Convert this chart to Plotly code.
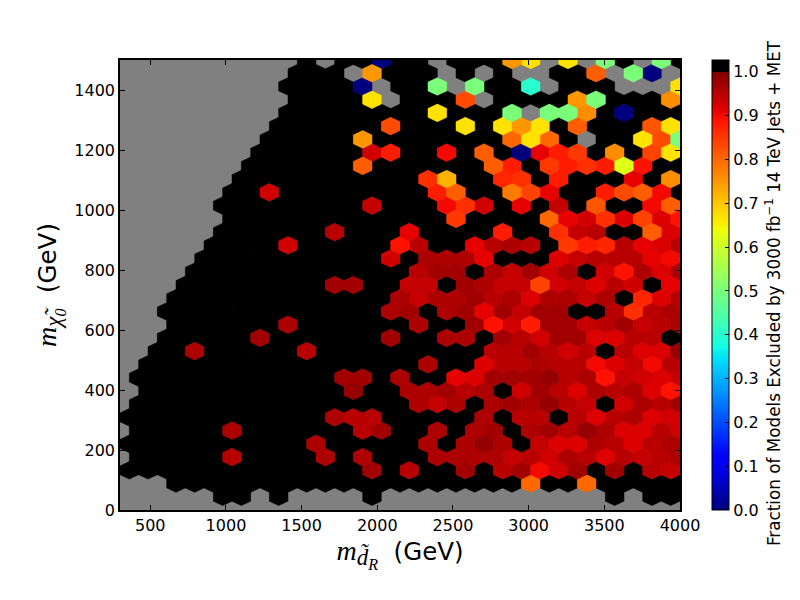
import numpy as np
import plotly.graph_objects as go

N = None   # empty bin, background shows through
B = 1.01   # black bins, everything excluded

# hexbin rows from the bottom, odd rows sit half a bin to the right
row_01 = [N]*5 + [B, B, N, B] + [N]*4 + [B] + [N]*12 + [B, N, B, B]
row_02 = [N]*3 + [B]*19 + [.8, B, B, .8] + [B]*5
row_03 = [B]*13 + [.97, B, .95, B, B, .97, B, .95, .97, .9, .93, .97, B, .97, B, .95, .94]
row_04 = [N] + [B]*5 + [.95] + [B]*4 + [.96, B, .96, B, B, B, .96, .96, .96, .96, .94, .95, .93, .96, .95, .92, .95, .94, .95, .96]
row_05 = [B]*10 + [.96] + [B]*5 + [.96, B, .96, .98, .96, B, .94, .92, .92, .96, .95, .92, .95, .96]
row_06 = [N] + [B]*5 + [.96] + [B]*6 + [.95, .97, B, B, .96, B, .96, .97, B, .96, .97, .95, .98, .96, .92, .92, .95, .93]
row_07 = [B]*11 + [.96, .95, .95] + [B]*5 + [.96, B, .95, .95, B, .95, .92, .95, .96, .92, .93]
row_08 = [N] + [B]*15 + [.96, .94, .96, B, .96, .97, .96, .98, .95, .94, B, .93, .96, .95, .97]
row_09 = [N] + [B]*11 + [.98, B, B, .96, .96, .97, .95, .96, B, .93, .97, .95, .92, .96, .95, .96, .92, .89]
row_10 = [N] + [B]*11 + [.97, .97, B, .96, B, B, .91, .92, .97, .97, .97, .98, .95, .96, .89, .94, .93, .92, .94]
row_11 = [N] + [B]*15 + [.96, B, B, .92, .95, .95, .96, .95, .95, .9, .92, .94, .9, .95]
row_12 = [N]*2 + [B, B, .96] + [B]*5 + [.95] + [B]*9 + [.95, .95, .97, .95, .93, .95, B, .95, .92, .92, .98]
row_13 = [N]*2 + [B]*5 + [.97] + [B]*6 + [.97, B, B, .96, .96, B, .97, .95, .93, .97, .97, .92, .92, .95, .95, B]
row_14 = [N]*3 + [B]*6 + [.96] + [B]*6 + [.96, B, B, .97, .89, .93, .88, .97, .97, .94, .95, .97, .94, .95, .96]
row_15 = [N]*2 + [B]*12 + [.96, .97, B, .96, .97, .91, .97, .94, .97, .97, B, B, .95, .86, .95, .96]
row_16 = [N]*3 + [B]*12 + [.96, .94, .96, .96, .97, .95, .96, .92, .96, .96, .94, .96, B, .87, .92, .95]
row_17 = [N]*3 + [B]*8 + [.97, .97, B, B, .94, .94, B, .97, .96, .94, .94, .84, .93, .94, .92, .95, .93, B, .91]
row_18 = [N]*4 + [B]*12 + [.95, .97, .97, B, .96, .94, .97, .93, .96, B, .93, .89, .96, .92, .96]
row_19 = [N]*4 + [B]*10 + [.93, B, .96, .96, .96, .91, B, B, B, .92, .94, .95, .95, .95, .91, .9]
row_20 = [N]*5 + [B]*4 + [.93] + [B]*5 + [.89, .95, B, B, .91, .95, .96, .95, B, .85, .88, .87, .95, .91, .92, .95]
row_21 = [N]*5 + [B]*6 + [.95, B, B, B, .91] + [B]*4 + [.88, B, B, .86, .94, .95, B, B, .81, .92]
row_22 = [N]*6 + [B]*12 + [.85] + [B]*4 + [.8, .91, .93, .86, .92, .84, .92, .89]
row_23 = [N]*5 + [B]*8 + [.94, B, B, B, .9, .86, .93, B, .91, B, .94, B, .82, B, B, .9, .81]
row_24 = [N]*6 + [B, B, .93] + [B]*8 + [.88, .81, B, B, .78, .84, .91, B, B, .88, .83, .81, .9, B]
row_25 = [N]*6 + [B]*10 + [.86, .72, B, B, .87, .86, B, .88, B, B, B, .91, B, .76]
row_26 = [N]*7 + [B]*6 + [.81] + [B]*6 + [.81, .88, B, .85, .88, .86, .88, .62, .89, B, B]
row_27 = [N]*7 + [B]*6 + [.93, .88, B, B, .9, B, .81, B, 0.0, .91, .88, .85, B, .76, B, .84, .67]
row_28 = [N]*8 + [B]*5 + [.75] + [B]*7 + [.8, .67, .8, B, N, B, B, .67, .83, .5]
row_29 = [N]*8 + [B]*6 + [.83, B, B, B, .67, B, .67, .75, .67, B, .81, B, B, B, .82, .67]
row_30 = [N]*9 + [B]*8 + [.67, B, B, B, .5, N, .5, .5, .76, B, 0.0, B, B, B]
row_31 = [N]*9 + [B]*4 + [.67, N, B, B, B, .83, N, B, B, B, B, .75, .5, B, B, B, .76]
row_32 = [N]*9 + [B]*4 + [0.0, N, B, B, .5, N, .5, B, B, .4, N, B, B, B, N, N, N, .67]
row_33 = [N]*9 + [B, B, B, N, .75, B, B, B, N, B, N, B, N, N, B, B, .81, N, .5, 0.0, N]
row_34 = [N]*10 + [B, N, B, B, 0.0, B, B, N, B, B, B, .75, .67, N, .67, N, .5, B, N, .5, B]
rows = [row_01, row_02, row_03, row_04, row_05, row_06, row_07, row_08, row_09, row_10, row_11,
        row_12, row_13, row_14, row_15, row_16, row_17, row_18, row_19, row_20, row_21, row_22,
        row_23, row_24, row_25, row_26, row_27, row_28, row_29, row_30, row_31, row_32, row_33, row_34]

x_ticks = [500, 1000, 1500, 2000, 2500, 3000, 3500, 4000]
y_ticks = [0, 200, 400, 600, 800, 1000, 1200, 1400]
cbar_ticks = [0.0, 0.1, 0.2, 0.3, 0.4, 0.5, 0.6, 0.7, 0.8, 0.9, 1.0]

xmin, xmax, ymin, ymax = 300, 4000, 0, 1500
sx = (xmax - xmin) / 30
sy = (ymax - ymin) / 17
vmax = 1.027


def jet(v):
    # black above 1.0, same as the colorbar
    if v >= 1:
        return "rgb(0,0,0)"
    r = np.interp(v, [0, .35, .66, .89, 1], [0, 0, 1, 1, .5])
    g = np.interp(v, [0, .125, .375, .64, .91, 1], [0, 0, 1, 1, 0, 0])
    b = np.interp(v, [0, .11, .34, .65, 1], [.5, 1, 1, 0, 0])
    return "rgb(%d,%d,%d)" % (r * 255, g * 255, b * 255)


stops = [0, .11, .125, .34, .35, .375, .64, .65, .66, .89, .91, .9999]
scale = [[p / vmax, jet(p)] for p in stops] + [[1 / vmax, "rgb(0,0,0)"], [1, "rgb(0,0,0)"]]

# one polygon per bin, grouped by value so each value is one filled trace
hex_dx = np.array([.5, .5, 0, -.5, -.5, 0, .5]) * sx
hex_dy = np.array([-.5, .5, 1, .5, -.5, -1, -.5]) * sy / 3
groups = {}
xs, ys, vals = [], [], []
for k, row in enumerate(rows, start=1):
    for i, v in enumerate(row):
        if v is None:
            continue
        cx = xmin + i * sx + (sx / 2 if k % 2 else 0)
        cy = ymin + k * sy / 2
        gx, gy = groups.setdefault(v, ([], []))
        gx.extend(list(cx + hex_dx) + [None])
        gy.extend(list(cy + hex_dy) + [None])
        xs.append(cx)
        ys.append(cy)
        vals.append(v)

fig = go.Figure()
for v, (gx, gy) in groups.items():
    c = jet(v)
    fig.add_trace(go.Scatter(x=gx, y=gy, mode="lines", fill="toself", fillcolor=c,
                             line=dict(color=c, width=0.5), hoverinfo="skip", showlegend=False))

# invisible points carry the colorbar
fig.add_trace(go.Scatter(x=xs, y=ys, mode="markers", showlegend=False,
                         marker=dict(size=1, opacity=0, color=vals, cmin=0, cmax=vmax, colorscale=scale,
                                     colorbar=dict(x=1.0571, xanchor="left", xpad=0, y=0.5, yanchor="middle",
                                                   ypad=0, len=1, thickness=17, tickvals=cbar_ticks,
                                                   tickformat=".1f", ticks="inside", ticklen=4, tickcolor="black",
                                                   outlinecolor="black", outlinewidth=1,
                                                   tickfont=dict(size=16, color="black")))))

axis = dict(showgrid=False, zeroline=False, showline=True, linecolor="black", linewidth=1.5,
            mirror="ticks", ticks="inside", ticklen=5, tickcolor="black", tickfont=dict(size=16, color="black"))
serif = "<span style='font-family:Liberation Serif;font-size:%dpx'><i>%s</i></span>"
fig.update_xaxes(axis, range=[xmin, xmax], tickvals=x_ticks, title=dict(
    text=serif % (28, "m") + "<sub>" + serif % (23, "d\u0303<sub>R</sub>") + "</sub>  (GeV)",
    font=dict(size=24.5, color="black"), standoff=4))
fig.update_yaxes(axis, range=[ymin, ymax], tickvals=y_ticks, title=dict(
    text=serif % (28, "m") + "<sub>" + serif % (23, "\u03c7\u0303<sub>0</sub>") + "</sub>  (GeV)",
    font=dict(size=24.5, color="black"), standoff=11))

# the page body adds 8 px around the plot, margins take that off
fig.update_layout(width=792, height=592, margin=dict(l=112, r=120, t=52, b=90, autoexpand=False),
                  plot_bgcolor="#808080", paper_bgcolor="white", font=dict(family="DejaVu Sans"),
                  annotations=[dict(text="Fraction of Models Excluded by 3000 fb<sup>\u22121</sup> 14 TeV Jets + MET",
                                    xref="paper", yref="paper", x=1.166, y=0.482, textangle=-90, showarrow=False,
                                    xanchor="center", yanchor="middle", font=dict(size=16.8, color="black"))])

fig.write_html("out.html")
